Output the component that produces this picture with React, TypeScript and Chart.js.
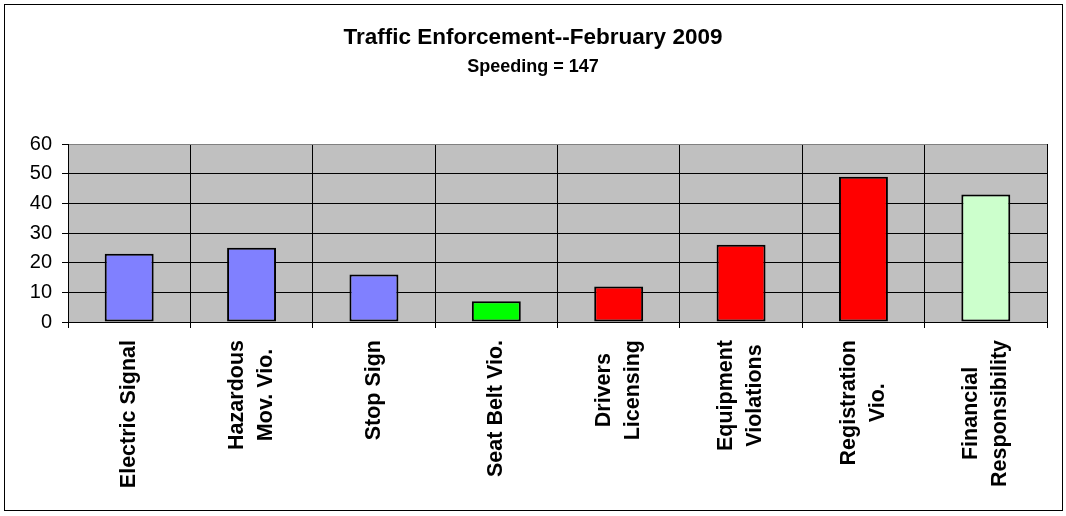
import React, { useEffect, useRef } from "react";
import { Chart, registerables } from "chart.js";

Chart.register(...registerables);

const categories: string[][] = [
  ["Electric Signal"],
  ["Hazardous", "Mov. Vio."],
  ["Stop Sign"],
  ["Seat Belt Vio."],
  ["Drivers", "Licensing"],
  ["Equipment", "Violations"],
  ["Registration", "Vio."],
  ["Financial", "Responsibility"],
];
const counts = [23, 25, 16, 7, 12, 26, 49, 43];
const barColors = ["#8080FF", "#8080FF", "#8080FF", "#00FF00", "#FF0000", "#FF0000", "#FF0000", "#CCFFCC"];
const yTicks = [0, 10, 20, 30, 40, 50, 60];
const titleText = "Traffic Enforcement--February 2009";
const subtitleText = "Speeding = 147";

const W = 1066;
const H = 516;

const decor = {
  id: "decor",
  beforeDraw(chart: any) {
    const { ctx, chartArea } = chart;
    ctx.save();
    ctx.fillStyle = "#FFFFFF";
    ctx.fillRect(0, 0, W, H);
    ctx.fillStyle = "#C0C0C0";
    ctx.fillRect(chartArea.left, chartArea.top, chartArea.right - chartArea.left, chartArea.bottom - chartArea.top);
    ctx.restore();
  },
  afterDraw(chart: any) {
    const { ctx } = chart;
    ctx.save();
    // outer border
    ctx.strokeStyle = "#000000";
    ctx.lineWidth = 1;
    ctx.strokeRect(4.5, 4.5, 1058, 506);
    // titles
    ctx.fillStyle = "#000000";
    ctx.textAlign = "center";
    ctx.textBaseline = "middle";
    ctx.font = "bold 22.5px Arial, 'Liberation Sans', sans-serif";
    ctx.fillText(titleText, W / 2, 38);
    ctx.font = "bold 18px Arial, 'Liberation Sans', sans-serif";
    ctx.fillText(subtitleText, W / 2, 67);
    // x labels
    const xs = chart.scales.x;
    ctx.font = "bold 21.5px Arial, 'Liberation Sans', sans-serif";
    const lineGap = 29;
    const startY = chart.chartArea.bottom + 18;
    categories.forEach((lines, i) => {
      const cx = xs.getPixelForValue(i);
      const maxW = Math.max(...lines.map((l) => ctx.measureText(l).width));
      const n = lines.length;
      lines.forEach((l, j) => {
        const lx = cx + (j - (n - 1) / 2) * lineGap;
        ctx.save();
        ctx.translate(lx, startY + maxW / 2);
        ctx.rotate(-Math.PI / 2);
        ctx.textAlign = "center";
        ctx.textBaseline = "middle";
        ctx.fillText(l, 0, 0);
        ctx.restore();
      });
    });
    ctx.restore();
  },
};

export default function App() {
  const ref = useRef<HTMLCanvasElement | null>(null);
  useEffect(() => {
    document.body.style.margin = "0";
    const canvas = ref.current;
    if (!canvas) return;
    const chart = new Chart(canvas, {
      type: "bar",
      data: {
        labels: categories.map((c) => c.join(" ")),
        datasets: [
          {
            data: counts,
            backgroundColor: barColors,
            borderColor: "#000000",
            borderWidth: 2,
            borderSkipped: false,
            categoryPercentage: 1,
            barPercentage: 0.4,
          },
        ],
      },
      options: {
        responsive: false,
        animation: false,
        devicePixelRatio: 1,
        layout: { padding: { left: 8, right: 19, top: 144, bottom: 188 } },
        plugins: {
          legend: { display: false },
          title: { display: false },
          tooltip: { enabled: false },
        },
        scales: {
          x: {
            type: "category",
            offset: true,
            ticks: { display: false },
            grid: {
              offset: true,
              color: (c: any) => (c.index === categories.length ? "#808080" : "#000000"),
              tickColor: "#000000",
              tickLength: 6,
              lineWidth: 1,
            },
            border: { color: "#000000", width: 1 },
            afterFit: (s: any) => {
              s.height = 6;
            },
          },
          y: {
            min: 0,
            max: 60,
            afterBuildTicks: (s: any) => {
              s.ticks = yTicks.map((v) => ({ value: v }));
            },
            ticks: {
              color: "#000000",
              padding: 10,
              font: { family: "Arial, 'Liberation Sans', sans-serif", size: 20 },
            },
            grid: {
              color: (c: any) => (c.tick && c.tick.value === 60 ? "#808080" : "#000000"),
              tickColor: "#000000",
              tickLength: 6,
              lineWidth: 1,
            },
            border: { color: "#000000", width: 1 },
            afterFit: (s: any) => {
              s.width = 60;
            },
          },
        },
      },
      plugins: [decor],
    });
    return () => chart.destroy();
  }, []);
  return <canvas ref={ref} width={W} height={H} style={{ display: "block" }} />;
}
